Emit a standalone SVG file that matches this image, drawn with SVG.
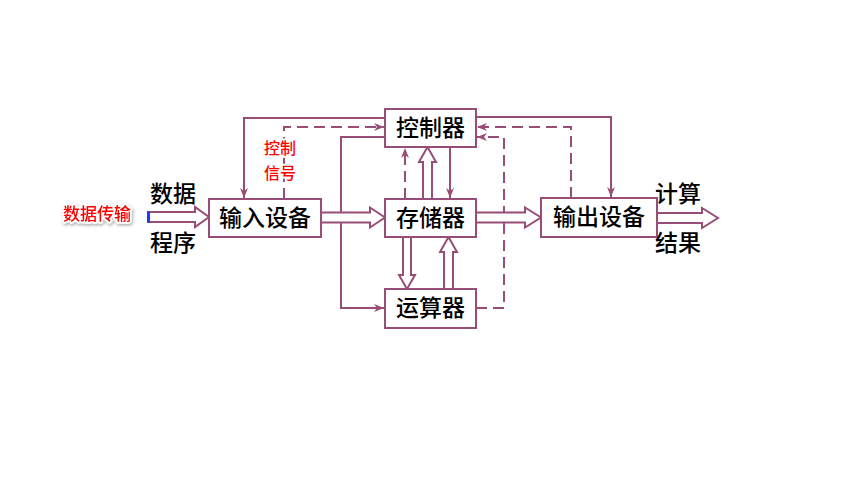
<svg xmlns="http://www.w3.org/2000/svg" width="844" height="486" viewBox="0 0 844 486">
<style>
.box{fill:#fff;stroke:#984D76;stroke-width:2}
.ln{fill:none;stroke:#984D76;stroke-width:2}
.dash{fill:none;stroke:#984D76;stroke-width:2;stroke-dasharray:11 6}
.hol{fill:#fff;stroke:#984D76;stroke-width:2;stroke-linejoin:miter}
.t{font-family:"Noto Sans CJK SC","Liberation Sans",sans-serif;font-size:23px;font-weight:500;fill:#000}
.r{font-family:"Noto Sans CJK SC","Liberation Sans",sans-serif;font-size:17px;font-weight:500;fill:#f00;stroke:#fff;stroke-width:4;paint-order:stroke;stroke-linejoin:round}
</style>
<defs>
<marker id="ah" viewBox="0 0 10 10" refX="10" refY="5" markerWidth="5" markerHeight="5" orient="auto" markerUnits="strokeWidth">
<path d="M0,1 L10,5 L0,9 L3,5 Z" fill="#984D76"/>
</marker>
<filter id="sh" x="-20%" y="-30%" width="140%" height="160%">
<feDropShadow dx="1" dy="1.5" stdDeviation="1.5" flood-color="#888" flood-opacity="0.7"/>
</filter>
</defs>
<rect width="844" height="486" fill="#fff"/>
<g id="connectors">
<path class="ln" d="M385,118 H244 V198" marker-end="url(#ah)"/>
<path class="dash" d="M284,199 V127 H384" marker-end="url(#ah)"/>
<path class="ln" d="M385,137 H341 V308 H384" marker-end="url(#ah)"/>
<path class="ln" d="M450,147 V198" marker-end="url(#ah)"/>
<path class="dash" d="M405,199 V148" marker-end="url(#ah)"/>
<path class="ln" d="M476,117 H611 V197" marker-end="url(#ah)"/>
<path class="dash" d="M571,198 V127 H477" marker-end="url(#ah)"/>
<path class="dash" d="M476,308 H504 V137 H477" marker-end="url(#ah)"/>
<path class="hol" d="M148,212 H195 V207 L209,217 L195,227 V222 H148 Z"/>
<path d="M148.5,211.5 V222.5" stroke="#1a3cff" stroke-width="3"/>
<path class="hol" d="M321,212.5 H370 V207.5 L385,217.5 L370,227.5 V222.5 H321 Z"/>
<path class="hol" d="M476,212.5 H525 V207.5 L541,217.5 L525,227.5 V222.5 H476 Z"/>
<path class="hol" d="M657,213 H702 V208 L718,218 L702,228 V223 H657 Z"/>
<path class="hol" d="M423,199 V162 H419 L427.5,147 L436,162 H432 V199 Z"/>
<path class="hol" d="M403,237 V275 H399 L407,289 L415,275 H411 V237 Z"/>
<path class="hol" d="M444,289 V252 H440 L448.5,237 L457,252 H453 V289 Z"/>
</g>
<g id="input">
<rect class="box" x="209" y="199" width="112" height="38"/>
<text class="t" x="265" y="226" text-anchor="middle">输入设备</text>
</g>
<g id="control">
<rect class="box" x="385" y="109" width="91" height="38"/>
<text class="t" x="430.5" y="136" text-anchor="middle">控制器</text>
</g>
<g id="memory">
<rect class="box" x="385" y="199" width="91" height="38"/>
<text class="t" x="430.5" y="226" text-anchor="middle">存储器</text>
</g>
<g id="alu">
<rect class="box" x="385" y="289" width="91" height="39"/>
<text class="t" x="430.5" y="316" text-anchor="middle">运算器</text>
</g>
<g id="output">
<rect class="box" x="541" y="198" width="116" height="39"/>
<text class="t" x="599" y="225" text-anchor="middle">输出设备</text>
</g>
<g id="labels">
<text class="t" x="150" y="202">数据</text>
<text class="t" x="150" y="251">程序</text>
<text class="t" x="655" y="202">计算</text>
<text class="t" x="655" y="251">结果</text>
<text class="r" x="264" y="154" style="font-size:16px">控制</text>
<text class="r" x="264" y="179" style="font-size:16px">信号</text>
<text class="r" x="63" y="220" filter="url(#sh)">数据传输</text>
</g>
</svg>
